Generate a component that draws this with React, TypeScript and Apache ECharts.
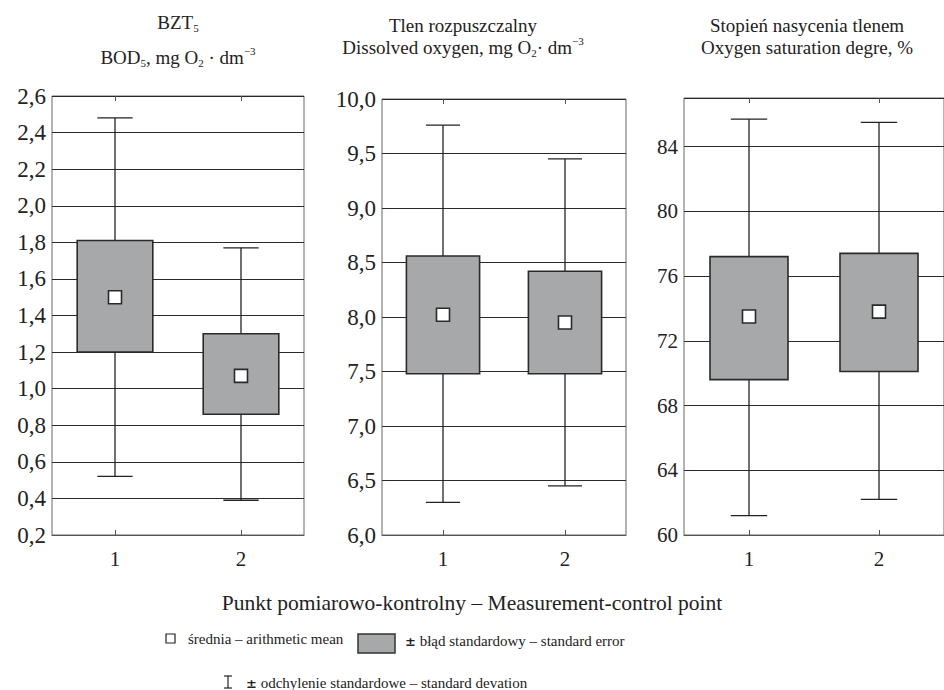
import React, { useEffect, useRef } from "react";
import * as echarts from "echarts";

const categories = ["1", "2"];

// BZT5 / BOD5
const bodSdLow = [0.52, 0.39];
const bodSeLow = [1.2, 0.86];
const bodMean = [1.5, 1.07];
const bodSeHigh = [1.81, 1.3];
const bodSdHigh = [2.48, 1.77];

// Dissolved oxygen
const doSdLow = [6.3, 6.45];
const doSeLow = [7.48, 7.48];
const doMean = [8.02, 7.95];
const doSeHigh = [8.56, 8.42];
const doSdHigh = [9.76, 9.45];

// Oxygen saturation
const satSdLow = [61.2, 62.2];
const satSeLow = [69.6, 70.1];
const satMean = [73.5, 73.8];
const satSeHigh = [77.2, 77.4];
const satSdHigh = [85.7, 85.5];

const FONT = "Liberation Serif";
const INK = "#222";
const BOX_FILL = "#a7a8aa";

function build(lo: number[], q1: number[], mean: number[], q3: number[], hi: number[]) {
  return categories.map((_, i) => [i, lo[i], q1[i], mean[i], q3[i], hi[i]]);
}

const renderItem = (params: any, api: any) => {
  const x = api.value(0);
  const lo = api.coord([x, api.value(1)]);
  const q1 = api.coord([x, api.value(2)]);
  const mean = api.coord([x, api.value(3)]);
  const q3 = api.coord([x, api.value(4)]);
  const hi = api.coord([x, api.value(5)]);
  const band = api.size([1, 0])[0];
  const boxW = band * 0.6;
  const capW = band * 0.28;
  const cx = lo[0];
  const lineStyle = { stroke: INK, lineWidth: 1.3 };
  return {
    type: "group",
    children: [
      { type: "line", shape: { x1: cx, y1: hi[1], x2: cx, y2: lo[1] }, style: lineStyle },
      { type: "line", shape: { x1: cx - capW / 2, y1: hi[1], x2: cx + capW / 2, y2: hi[1] }, style: lineStyle },
      { type: "line", shape: { x1: cx - capW / 2, y1: lo[1], x2: cx + capW / 2, y2: lo[1] }, style: lineStyle },
      {
        type: "rect",
        shape: { x: cx - boxW / 2, y: q3[1], width: boxW, height: q1[1] - q3[1] },
        style: { fill: BOX_FILL, stroke: "#2a2a2a", lineWidth: 1.6 },
      },
      {
        type: "rect",
        shape: { x: cx - 6.5, y: mean[1] - 6.5, width: 13, height: 13 },
        style: { fill: "#fff", stroke: "#2a2a2a", lineWidth: 1.6 },
      },
    ],
  };
};

const grids = [
  { left: 52, width: 252, top: 96, height: 439 },
  { left: 382, width: 244, top: 99, height: 436 },
  { left: 684, width: 264, top: 98, height: 437 },
];

const yCfg = [
  { min: 0.2, max: 2.6, interval: 0.2, dec: 1, size: 23 },
  { min: 6, max: 10, interval: 0.5, dec: 1, size: 23 },
  { min: 60, max: 87, interval: 4, dec: 0, size: 21 },
];

const seriesData = [
  build(bodSdLow, bodSeLow, bodMean, bodSeHigh, bodSdHigh),
  build(doSdLow, doSeLow, doMean, doSeHigh, doSdHigh),
  build(satSdLow, satSeLow, satMean, satSeHigh, satSdHigh),
];

const richBase = (size: number) => {
  const small = Math.round(size * 0.6);
  return {
    n: { fontSize: size, fontFamily: FONT, fill: INK, lineHeight: size + 4 },
    s: { fontSize: small, fontFamily: FONT, fill: INK, lineHeight: 12, verticalAlign: "bottom" },
    p: { fontSize: small, fontFamily: FONT, fill: INK, lineHeight: 12, verticalAlign: "top" },
    pm: { fontSize: size - 2, fontFamily: "DejaVu Sans", fontWeight: "bold", fill: INK, lineHeight: size + 4 },
  };
};

function titleText(x: number, y: number, text: string, size = 19) {
  return {
    type: "text",
    x,
    y,
    style: { text, rich: richBase(size), align: "center", verticalAlign: "middle", fill: INK, fontSize: size, fontFamily: FONT },
  };
}

function legendText(x: number, y: number, text: string) {
  return {
    type: "text",
    x,
    y,
    style: { text, rich: richBase(15), align: "left", verticalAlign: "middle", fill: INK, fontSize: 15, fontFamily: FONT },
  };
}

export default function App() {
  const ref = useRef<HTMLDivElement>(null);
  useEffect(() => {
    if (!ref.current) return;
    const chart = echarts.init(ref.current, null, { renderer: "svg" });
    const option: any = {
      animation: false,
      backgroundColor: "#fff",
      grid: grids.map((g) => ({ ...g, show: true, borderColor: "#666", borderWidth: 1, backgroundColor: "#fff" })),
      xAxis: grids.flatMap((_, i) => [
        {
          type: "category",
          gridIndex: i,
          data: categories,
          position: "bottom",
          axisLine: { show: true, lineStyle: { color: "#555", width: 1 } },
          axisTick: { show: true, inside: true, alignWithLabel: true, length: 5, lineStyle: { color: "#555" } },
          axisLabel: { fontFamily: FONT, fontSize: 21, color: INK, margin: 13 },
          splitLine: { show: false },
        },
        {
          type: "category",
          gridIndex: i,
          data: categories,
          position: "top",
          axisLine: { show: false },
          axisTick: { show: true, inside: true, alignWithLabel: true, length: 5, lineStyle: { color: "#555" } },
          axisLabel: { show: false },
          splitLine: { show: false },
        },
      ]),
      yAxis: yCfg.map((c, i) => ({
        type: "value",
        gridIndex: i,
        min: c.min,
        max: c.max,
        interval: c.interval,
        axisLine: { show: false },
        axisTick: { show: false },
        splitLine: { show: true, lineStyle: { color: "#2a2a2a", width: 1 } },
        axisLabel: {
          fontFamily: FONT,
          fontSize: c.size,
          color: INK,
          margin: 6,
          showMaxLabel: i !== 2,
          formatter: (v: number) => {
            const k = Math.round((v - c.min) / c.interval);
            if (Math.abs(c.min + k * c.interval - v) > 1e-6) return "";
            return v.toFixed(c.dec).replace(".", ",");
          },
        },
      })),
      series: seriesData.map((d, i) => ({
        type: "custom",
        xAxisIndex: i * 2,
        yAxisIndex: i,
        renderItem,
        data: d,
        z: 5,
      })),
      graphic: [
        titleText(178, 22, "{n|BZT}{s|5}"),
        titleText(178, 57, "{n|BOD}{s|5}{n|, mg O}{s|2}{n| · dm}{p|−3}"),
        titleText(463, 25, "{n|Tlen rozpuszczalny}"),
        titleText(463, 47, "{n|Dissolved oxygen, mg O}{s|2}{n|· dm}{p|−3}"),
        titleText(807, 25, "{n|Stopień nasycenia tlenem}"),
        titleText(807, 47, "{n|Oxygen saturation degre, %}"),
        titleText(472, 603, "{n|Punkt pomiarowo-kontrolny – Measurement-control point}", 21.5),
        {
          type: "rect",
          shape: { x: 166, y: 634, width: 9, height: 9 },
          style: { fill: "#fff", stroke: INK, lineWidth: 1.2 },
        },
        legendText(188, 639, "{n|średnia – arithmetic mean}"),
        {
          type: "rect",
          shape: { x: 358, y: 634, width: 37, height: 19 },
          style: { fill: BOX_FILL, stroke: "#333", lineWidth: 1.5 },
        },
        legendText(405, 641, "{pm|±}{n| błąd standardowy – standard error}"),
        { type: "line", shape: { x1: 228, y1: 676, x2: 228, y2: 688 }, style: { stroke: INK, lineWidth: 1.2 } },
        { type: "line", shape: { x1: 224, y1: 676, x2: 232, y2: 676 }, style: { stroke: INK, lineWidth: 1.2 } },
        { type: "line", shape: { x1: 224, y1: 688, x2: 232, y2: 688 }, style: { stroke: INK, lineWidth: 1.2 } },
        legendText(246, 683, "{pm|±}{n| odchylenie standardowe – standard devation}"),
      ],
    };
    chart.setOption(option);
    return () => chart.dispose();
  }, []);
  return (
    <div
      ref={ref}
      style={{ position: "absolute", left: 0, top: 0, width: 944, height: 690, background: "#fff" }}
    />
  );
}
